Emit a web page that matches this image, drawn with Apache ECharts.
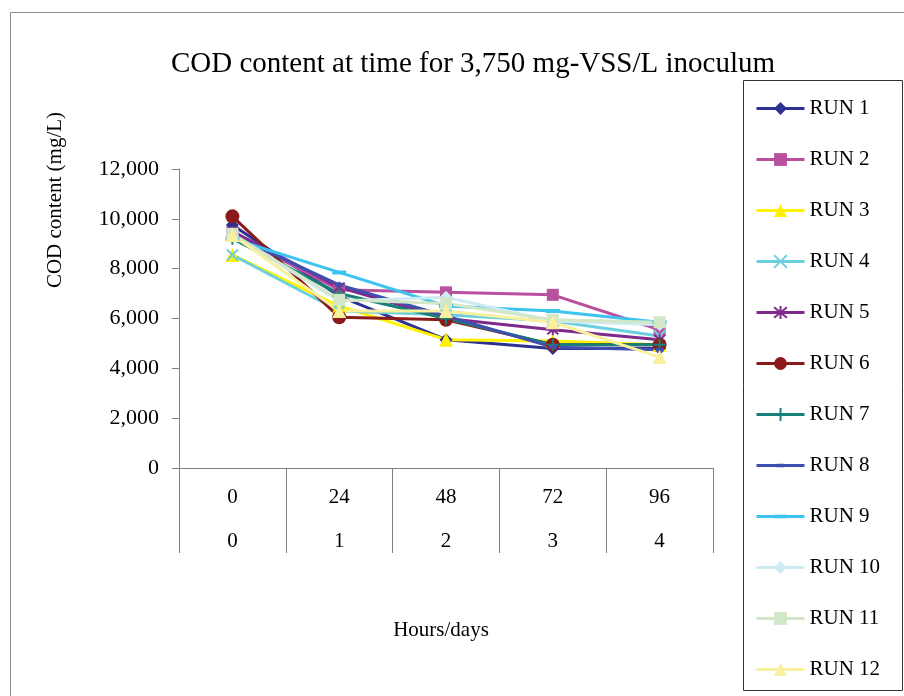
<!DOCTYPE html>
<html>
<head>
<meta charset="utf-8">
<script src="https://cdn.jsdelivr.net/npm/echarts@6/dist/echarts.min.js"></script>
<style>
  html, body { margin: 0; padding: 0; background: #fff; }
  #chart-root { width: 904px; height: 696px; }
</style>
</head>
<body>
<div id="chart-root"></div>
<script>
const hours = ['0', '24', '48', '72', '96'];
const days = ['0', '1', '2', '3', '4'];
const yTicks = [0, 2000, 4000, 6000, 8000, 10000, 12000];

const run1 = [9750, 6900, 5150, 4800, 4800];
const run2 = [9400, 7150, 7050, 6950, 5550];
const run3 = [8550, 6500, 5150, 5100, 4950];
const run4 = [8550, 6300, 6150, 5900, 5300];
const run5 = [9500, 7250, 6000, 5550, 5150];
const run6 = [10100, 6050, 5950, 4950, 4950];
const run7 = [9200, 7000, 6000, 4950, 4950];
const run8 = [9350, 7350, 6100, 4850, 4750];
const run9 = [9200, 7850, 6500, 6300, 5850];
const run10 = [9350, 6700, 6850, 5900, 5750];
const run11 = [9400, 6750, 6600, 5950, 5850];
const run12 = [9350, 6300, 6300, 5850, 4450];

(function () {
  const root = document.getElementById('chart-root');
  const chart = echarts.init(root);
  const serif = '"Liberation Serif", "Times New Roman", serif';

  const X = 'path://M0,0L10,10M10,0L0,10';
  const STAR = 'path://M0,0L10,10M10,0L0,10M5,-1L5,11';
  const PLUS = 'path://M5,0L5,10M0,5L10,5';
  // dashes inside a square box (tiny corner specks keep the box square)
  const DASH_S = 'path://M0,0L0.01,0L0.01,0.01Z M3,5L11,5L11,9L3,9Z M14,14L13.99,14L13.99,13.99Z';
  const DASH_L = 'path://M0,0L0.01,0L0.01,0.01Z M0,5L14,5L14,9L0,9Z M14,14L13.99,14L13.99,13.99Z';

  const runs = [
    { name: 'RUN 1', data: run1, color: '#2E3192', symbol: 'diamond', size: 13 },
    { name: 'RUN 2', data: run2, color: '#B8509E', symbol: 'rect', size: 12 },
    { name: 'RUN 3', data: run3, color: '#FFF200', symbol: 'triangle', size: 14 },
    { name: 'RUN 4', data: run4, color: '#6CCFE0', symbol: X, size: 11, stroke: true },
    { name: 'RUN 5', data: run5, color: '#7E2B8C', symbol: STAR, size: 11, stroke: true },
    { name: 'RUN 6', data: run6, color: '#8B1A1A', symbol: 'circle', size: 14 },
    { name: 'RUN 7', data: run7, color: '#168078', symbol: PLUS, size: 12, stroke: true },
    { name: 'RUN 8', data: run8, color: '#3F4FAF', symbol: DASH_S, size: 14 },
    { name: 'RUN 9', data: run9, color: '#3CC3EE', symbol: DASH_L, size: 14 },
    { name: 'RUN 10', data: run10, color: '#CDEBF1', symbol: 'diamond', size: 13 },
    { name: 'RUN 11', data: run11, color: '#D2E7C8', symbol: 'rect', size: 12 },
    { name: 'RUN 12', data: run12, color: '#F9F09E', symbol: 'triangle', size: 14 }
  ];

  const series = runs.map(function (r) {
    return {
      name: r.name,
      type: 'line',
      data: r.data,
      symbol: r.symbol,
      symbolSize: r.size,
      showAllSymbol: true,
      lineStyle: { color: r.color, width: 3 },
      itemStyle: r.stroke
        ? { color: r.color, borderColor: r.color, borderWidth: 2 }
        : { color: r.color, borderWidth: 0 },
      emphasis: { disabled: true },
      animation: false
    };
  });

  chart.setOption({
    animation: false,
    backgroundColor: '#fff',
    textStyle: { fontFamily: serif },
    title: {
      text: 'COD content at time for 3,750 mg-VSS/L inoculum',
      left: 468,
      textAlign: 'center',
      top: 45,
      textStyle: { fontFamily: serif, fontSize: 29, fontWeight: 'normal', color: '#000' }
    },
    legend: {
      orient: 'vertical',
      left: 755,
      top: 98,
      itemWidth: 48,
      itemHeight: 16,
      itemGap: 30,
      padding: 0,
      lineStyle: { width: 3 },
      textStyle: { fontFamily: serif, fontSize: 21, color: '#000', lineHeight: 20 },
      data: runs.map(function (r) { return r.name; })
    },
    graphic: [
      {
        type: 'rect',
        shape: { x: 10.5, y: 12.5, width: 920, height: 700 },
        style: { fill: 'none', stroke: '#8c8c8c', lineWidth: 1 },
        silent: true
      },
      {
        type: 'rect',
        shape: { x: 743.5, y: 80.5, width: 159, height: 610 },
        style: { fill: 'none', stroke: '#333', lineWidth: 1 },
        silent: true
      },
      {
        type: 'text',
        x: 55,
        y: 200,
        rotation: Math.PI / 2,
        style: {
          text: 'COD content (mg/L)',
          fontFamily: serif,
          fontSize: 21,
          fill: '#000',
          align: 'center',
          verticalAlign: 'middle'
        },
        silent: true
      },
      {
        type: 'text',
        x: 441,
        y: 630,
        style: {
          text: 'Hours/days',
          fontFamily: serif,
          fontSize: 21,
          fill: '#000',
          align: 'center',
          verticalAlign: 'middle'
        },
        silent: true
      }
    ],
    grid: { left: 179, top: 169, right: 191, bottom: 228, containLabel: false },
    xAxis: {
      type: 'category',
      data: hours,
      boundaryGap: true,
      axisLine: { lineStyle: { color: '#808080', width: 1 } },
      axisTick: { show: true, length: 85, lineStyle: { color: '#808080' } },
      axisLabel: {
        margin: 7,
        fontFamily: serif,
        fontSize: 21,
        color: '#000',
        lineHeight: 44,
        formatter: function (v, i) { return v + '\n' + days[i]; }
      },
      splitLine: { show: false }
    },
    yAxis: {
      type: 'value',
      min: yTicks[0],
      max: yTicks[yTicks.length - 1],
      interval: yTicks[1] - yTicks[0],
      axisLine: { show: true, lineStyle: { color: '#808080', width: 1 } },
      axisTick: { show: true, length: 7, lineStyle: { color: '#808080' } },
      axisLabel: {
        margin: 20,
        fontFamily: serif,
        fontSize: 22,
        color: '#000',
        formatter: function (v) { return v.toLocaleString('en-US'); }
      },
      splitLine: { show: false }
    },
    series: series
  });

  window.addEventListener('resize', function () { chart.resize(); });
}());
</script>
</body>
</html>
